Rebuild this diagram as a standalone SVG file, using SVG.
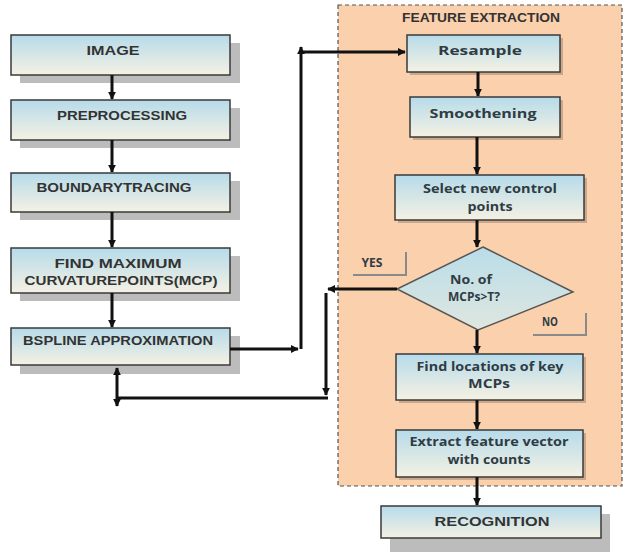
<svg xmlns="http://www.w3.org/2000/svg" width="625" height="554" viewBox="0 0 625 554">
<defs>
  <linearGradient id="boxg" x1="0" y1="0" x2="0" y2="1">
    <stop offset="0" stop-color="#b6dbea"/>
    <stop offset="1" stop-color="#f5f1e3"/>
  </linearGradient>
  <linearGradient id="diag" x1="0" y1="0" x2="0" y2="1">
    <stop offset="0" stop-color="#b9dde9"/>
    <stop offset="1" stop-color="#dfe6df"/>
  </linearGradient>
  <marker id="ah" viewBox="0 0 10 10" refX="9" refY="5" markerWidth="8" markerHeight="8" markerUnits="userSpaceOnUse" orient="auto-start-reverse">
    <path d="M0,0 L10,5 L0,10 z" fill="#111"/>
  </marker>
  <style>
    .box{fill:url(#boxg);stroke:#3a3a3a;stroke-width:1.5}
    .sh{fill:#bcbcbc}
    .shs{fill:#c9a88c}
    .lt{font-family:"Liberation Sans",Arial,sans-serif;font-weight:bold;font-size:13px;fill:#333;text-anchor:middle}
    .rt{font-family:"Open Sans","Liberation Sans",sans-serif;font-weight:bold;font-size:13px;fill:#2f3c44;text-anchor:middle}
    .con{fill:none;stroke:#111;stroke-width:3}
    .call{fill:none;stroke:#8a8a8a;stroke-width:2}
  </style>
</defs>

<g id="feature-extraction">
  <rect x="338" y="5" width="284" height="481" fill="#fbd0ad" stroke="#555" stroke-width="1.2" stroke-dasharray="4,3"/>
  <text class="lt" x="481" y="22" font-size="11" textLength="158" lengthAdjust="spacingAndGlyphs">FEATURE EXTRACTION</text>
</g>

<g id="image">
  <rect class="sh" x="20" y="43" width="220" height="40"/>
  <rect class="box" x="11" y="35" width="219" height="40"/>
  <text class="lt" x="113" y="55" textLength="53" lengthAdjust="spacingAndGlyphs">IMAGE</text>
</g>
<g id="preprocessing">
  <rect class="sh" x="20" y="108" width="220" height="40"/>
  <rect class="box" x="11" y="100" width="219" height="40"/>
  <text class="lt" x="122" y="120" textLength="130" lengthAdjust="spacingAndGlyphs">PREPROCESSING</text>
</g>
<g id="boundary">
  <rect class="sh" x="20" y="181" width="220" height="39"/>
  <rect class="box" x="11" y="173" width="219" height="39"/>
  <text class="lt" x="114" y="192" textLength="155" lengthAdjust="spacingAndGlyphs">BOUNDARYTRACING</text>
</g>
<g id="find-mcp">
  <rect class="sh" x="20" y="256" width="220" height="45"/>
  <rect class="box" x="11" y="248" width="219" height="45"/>
  <text class="lt" x="118" y="268" textLength="127" lengthAdjust="spacingAndGlyphs">FIND MAXIMUM</text>
  <text class="lt" x="121" y="285" textLength="193" lengthAdjust="spacingAndGlyphs">CURVATUREPOINTS(MCP)</text>
</g>
<g id="bspline">
  <rect class="sh" x="20" y="336" width="220" height="38"/>
  <rect class="box" x="11" y="328" width="219" height="37"/>
  <text class="lt" x="118" y="345" textLength="190" lengthAdjust="spacingAndGlyphs">BSPLINE APPROXIMATION</text>
</g>

<g id="resample">
  <rect class="shs" x="410" y="38" width="153" height="37"/>
  <rect class="box" x="407" y="35" width="153" height="37"/>
  <text class="rt" x="480" y="55" textLength="84" lengthAdjust="spacingAndGlyphs">Resample</text>
</g>
<g id="smoothening">
  <rect class="shs" x="413" y="100" width="150" height="40"/>
  <rect class="box" x="410" y="97" width="150" height="40"/>
  <text class="rt" x="483" y="118" textLength="107" lengthAdjust="spacingAndGlyphs">Smoothening</text>
</g>
<g id="select">
  <rect class="shs" x="398" y="178" width="189" height="45"/>
  <rect class="box" x="395" y="175" width="189" height="45"/>
  <text class="rt" x="490" y="193" font-size="12.5" textLength="134" lengthAdjust="spacingAndGlyphs">Select new control</text>
  <text class="rt" x="490" y="211" font-size="12.5" textLength="45" lengthAdjust="spacingAndGlyphs">points</text>
</g>
<g id="decision">
  <polygon points="483,247 573,292 478,330 397,289" fill="url(#diag)" stroke="#555" stroke-width="1.5"/>
  <text class="rt" x="471" y="284" font-size="12" textLength="42" lengthAdjust="spacingAndGlyphs">No. of</text>
  <text class="rt" x="474" y="301" font-size="12" textLength="52" lengthAdjust="spacingAndGlyphs">MCPs&gt;T?</text>
</g>
<g id="yes-label">
  <polyline class="call" points="353,275 406,275 406,252"/>
  <text class="rt" x="372" y="267" font-size="10" textLength="21" lengthAdjust="spacingAndGlyphs">YES</text>
</g>
<g id="no-label">
  <polyline class="call" points="533,335 586,335 586,313"/>
  <text class="rt" x="550" y="326" font-size="10" textLength="16" lengthAdjust="spacingAndGlyphs">NO</text>
</g>
<g id="find-locations">
  <rect class="shs" x="399" y="357" width="187" height="46"/>
  <rect class="box" x="396" y="354" width="187" height="46"/>
  <text class="rt" x="490" y="371" font-size="12.5" textLength="147" lengthAdjust="spacingAndGlyphs">Find locations of key</text>
  <text class="rt" x="489" y="388" font-size="12.5" textLength="42" lengthAdjust="spacingAndGlyphs">MCPs</text>
</g>
<g id="extract">
  <rect class="shs" x="399" y="433" width="187" height="47"/>
  <rect class="box" x="396" y="430" width="187" height="47"/>
  <text class="rt" x="489" y="446" font-size="12" textLength="159" lengthAdjust="spacingAndGlyphs">Extract feature vector</text>
  <text class="rt" x="489" y="464" font-size="12" textLength="83" lengthAdjust="spacingAndGlyphs">with counts</text>
</g>
<g id="recognition">
  <rect class="sh" x="390" y="514" width="220" height="38"/>
  <rect class="box" x="381" y="506" width="220" height="32"/>
  <text class="lt" x="492" y="526" textLength="115" lengthAdjust="spacingAndGlyphs">RECOGNITION</text>
</g>

<g id="connectors">
  <path class="con" d="M112,75 V99" marker-end="url(#ah)"/>
  <path class="con" d="M112,140 V172" marker-end="url(#ah)"/>
  <path class="con" d="M112,212 V247" marker-end="url(#ah)"/>
  <path class="con" d="M112,293 V327" marker-end="url(#ah)"/>
  <path class="con" d="M230,349 H298" marker-end="url(#ah)"/>
  <path class="con" d="M301,349 V47" marker-end="url(#ah)"/>
  <path class="con" d="M301,52 H405" marker-end="url(#ah)"/>
  <path class="con" d="M478,72 V96" stroke-width="2.5" marker-end="url(#ah)"/>
  <path class="con" d="M477,137 V174" stroke-width="2.5" marker-end="url(#ah)"/>
  <path class="con" d="M477,220 V247" stroke-width="2.5" marker-end="url(#ah)"/>
  <path class="con" d="M397,289 H328" marker-end="url(#ah)"/>
  <path class="con" d="M326,293 V395" marker-end="url(#ah)"/>
  <path class="con" d="M328,398 H117"/>
  <path class="con" d="M117,368 V406" marker-start="url(#ah)" marker-end="url(#ah)"/>
  <path class="con" d="M477,330 V353" stroke-width="2.5" marker-end="url(#ah)"/>
  <path class="con" d="M477,400 V429" stroke-width="2.5" marker-end="url(#ah)"/>
  <path class="con" d="M477,477 V505" marker-end="url(#ah)"/>
</g>
</svg>
